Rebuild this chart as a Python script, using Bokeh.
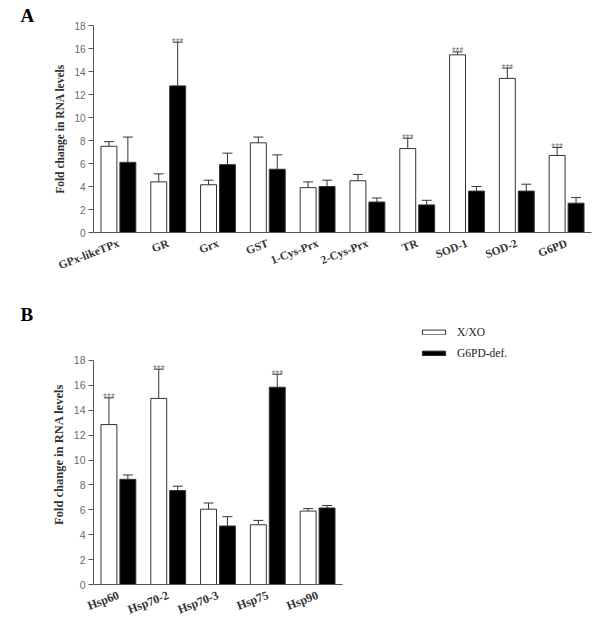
from bokeh.plotting import figure
from bokeh.layouts import column
from bokeh.models import (ColumnDataSource, FactorRange, FixedTicker,
                          Legend, LegendItem, Range1d)
from bokeh.transform import dodge
from bokeh.core.properties import value
from bokeh.embed import file_html
from bokeh.resources import INLINE

# ---------------- data ----------------
cats_a = ["GPx-likeTPx", "GR", "Grx", "GST", "1-Cys-Prx", "2-Cys-Prx",
          "TR", "SOD-1", "SOD-2", "G6PD"]
xxo_a = [7.5, 4.4, 4.15, 7.8, 3.9, 4.5, 7.3, 15.45, 13.4, 6.7]
xxo_a_err = [7.9, 5.1, 4.55, 8.3, 4.4, 5.05, 8.2, 15.7, 14.3, 7.4]
xxo_a_sig = ["", "", "", "", "", "", "***", "***", "***", "***"]
def_a = [6.1, 12.75, 5.9, 5.5, 4.0, 2.65, 2.4, 3.6, 3.6, 2.55]
def_a_err = [8.3, 16.55, 6.9, 6.75, 4.55, 3.0, 2.8, 4.0, 4.2, 3.05]
def_a_sig = ["", "***", "", "", "", "", "", "", "", ""]

cats_b = ["Hsp60", "Hsp70-2", "Hsp70-3", "Hsp75", "Hsp90"]
xxo_b = [12.85, 14.95, 6.05, 4.8, 5.9]
xxo_b_err = [15.0, 17.3, 6.55, 5.15, 6.1]
xxo_b_sig = ["***", "***", "", "", ""]
def_b = [8.45, 7.55, 4.7, 15.85, 6.15]
def_b_err = [8.8, 7.9, 5.45, 16.9, 6.35]
def_b_sig = ["", "", "", "***", ""]

y_ticks = [0, 2, 4, 6, 8, 10, 12, 14, 16, 18]
series_names = ["X/XO", "G6PD-def."]
y_label = "Fold change in RNA levels"

SERIF = "Liberation Serif"
SANS = "Liberation Sans"
OFF = 0.19
BW = 0.32
CAP = 0.1


def make_panel(factors, cats, series, letter, height, y_end, mb_top,
               mb_bottom, fs_lab, fs_tick, fs_ylab):
    p = figure(x_range=FactorRange(*factors), y_range=Range1d(0, y_end),
               width=596, height=height, output_backend="svg",
               toolbar_location=None, min_border_left=93,
               min_border_right=5, min_border_top=mb_top,
               min_border_bottom=mb_bottom, title=letter)
    p.outline_line_color = None
    p.grid.visible = False
    p.background_fill_color = "white"
    p.border_fill_color = "white"

    # panel letter
    p.title.align = "left"
    p.title.offset = -73
    p.title.standoff = 0
    p.title.text_font = SERIF
    p.title.text_font_style = "bold"
    p.title.text_font_size = "19px"
    p.title.text_color = "black"

    renderers = []
    for (vals, errs, sig, fill, off) in series:
        src = ColumnDataSource(dict(cat=cats, val=vals, err=errs, sig=sig))
        r = p.vbar(x=dodge("cat", off, range=p.x_range), top="val",
                   width=BW, bottom=0, source=src, fill_color=fill,
                   line_color="#333333", line_width=1)
        p.segment(x0=dodge("cat", off, range=p.x_range), y0="val",
                  x1=dodge("cat", off, range=p.x_range), y1="err",
                  source=src, line_color="#333333", line_width=1)
        p.segment(x0=dodge("cat", off - CAP, range=p.x_range), y0="err",
                  x1=dodge("cat", off + CAP, range=p.x_range), y1="err",
                  source=src, line_color="#333333", line_width=1)
        p.text(x=dodge("cat", off, range=p.x_range), y="err", text="sig",
               source=src, text_align="center", text_baseline="alphabetic",
               text_font=value(SANS), text_font_size="10px",
               text_color="#808080")
        renderers.append(r)

    # y axis
    ya = p.yaxis[0]
    ya.ticker = FixedTicker(ticks=y_ticks)
    ya.bounds = (y_ticks[0], y_ticks[-1])
    ya.minor_tick_line_color = None
    ya.major_tick_in = 0
    ya.major_tick_out = 5
    ya.axis_line_color = "#555555"
    ya.major_tick_line_color = "#555555"
    ya.major_label_text_font = SANS
    ya.major_label_text_font_size = fs_tick
    ya.major_label_text_color = "#6a6a6a"
    ya.major_label_standoff = 3
    ya.axis_label = y_label
    ya.axis_label_text_font = SERIF
    ya.axis_label_text_font_style = "bold"
    ya.axis_label_text_font_size = fs_ylab
    ya.axis_label_text_color = "#333333"
    ya.axis_label_standoff = 5

    # x axis
    xa = p.xaxis[0]
    xa.bounds = (0, len(cats))
    xa.major_tick_line_color = None
    xa.minor_tick_line_color = None
    xa.axis_line_color = "#555555"
    xa.major_label_orientation = 0.37
    xa.major_label_text_font = SERIF
    xa.major_label_text_font_style = "bold"
    xa.major_label_text_font_size = fs_lab
    xa.major_label_text_color = "#333333"
    xa.major_label_standoff = 4
    return p, renderers


pa, _ = make_panel(
    cats_a, cats_a,
    [(xxo_a, xxo_a_err, xxo_a_sig, "white", -OFF),
     (def_a, def_a_err, def_a_sig, "black", OFF)],
    "A", height=300, y_end=18, mb_top=25, mb_bottom=68,
    fs_lab="11.5px", fs_tick="10px", fs_ylab="11.5px")

pad_b = [" " * (i + 1) for i in range(len(cats_a) - len(cats_b))]
pb, rb = make_panel(
    cats_b + pad_b, cats_b,
    [(xxo_b, xxo_b_err, xxo_b_sig, "white", -OFF),
     (def_b, def_b_err, def_b_sig, "black", OFF)],
    "B", height=325, y_end=20.89, mb_top=24, mb_bottom=41,
    fs_lab="12px", fs_tick="10.5px", fs_ylab="12.5px")

legend = Legend(items=[LegendItem(label=series_names[0], renderers=[rb[0]]),
                       LegendItem(label=series_names[1], renderers=[rb[1]])],
                location=(326, 224.5), orientation="vertical",
                glyph_width=29, glyph_height=6, label_height=14, spacing=7,
                label_standoff=9, padding=0, margin=0,
                border_line_color=None, background_fill_alpha=0,
                label_text_font=SERIF, label_text_font_size="11.5px",
                label_text_color="#222222")
pb.add_layout(legend)

layout = column(pa, pb, spacing=0)
open("out.html", "w").write(file_html(layout, INLINE))
